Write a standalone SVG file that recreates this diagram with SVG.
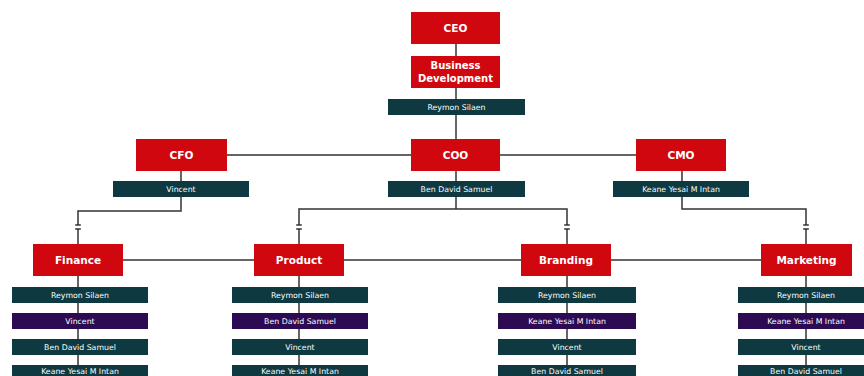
<svg xmlns="http://www.w3.org/2000/svg" width="864" height="376" viewBox="0 0 864 376">
<defs>
<style>
.role{fill:#d0070f}
.staff{fill:#0e3940}
.lead{fill:#2c0b53}
.ln{fill:none;stroke:#333;stroke-width:1.5}
.t{font-family:"DejaVu Sans","Liberation Sans",sans-serif;fill:#fff;text-anchor:middle}
.tb{font-weight:bold;font-size:10.5px}
.ts{font-size:7.8px}
</style>
<marker id="tick" markerUnits="userSpaceOnUse" markerWidth="8" markerHeight="8" viewBox="-4 -4 8 8" refX="0" refY="0" orient="auto">
<path d="M0,-2.8V2.8" stroke="#333" stroke-width="1.5"/>
</marker>
</defs>
<rect width="864" height="376" fill="#fff"/>
<g id="connectors">
<path class="ln" d="M456,44V139"/>
<path class="ln" d="M227,155H411M500,155H636"/>
<path class="ln" d="M181,171V211H78V225" marker-end="url(#tick)"/>
<path class="ln" d="M78,229V244" marker-start="url(#tick)"/>
<path class="ln" d="M456,171V209"/>
<path class="ln" d="M299,225V209H567V225" marker-start="url(#tick)" marker-end="url(#tick)"/>
<path class="ln" d="M299,229V244" marker-start="url(#tick)"/>
<path class="ln" d="M567,229V244" marker-start="url(#tick)"/>
<path class="ln" d="M682,171V209H806V225" marker-end="url(#tick)"/>
<path class="ln" d="M806,229V244" marker-start="url(#tick)"/>
<path class="ln" d="M123,260H254M344,260H521M611,260H761"/>
<path class="ln" d="M78,276V376M299,276V376M567,276V376M806,276V376"/>
</g>
<g id="ceo"><rect class="role" x="411" y="12" width="89" height="32"/><text class="t tb" x="455.5" y="32">CEO</text></g>
<g id="bizdev"><rect class="role" x="411" y="56" width="89" height="32"/><text class="t tb" style="font-size:10px" x="455.5" y="69">Business</text><text class="t tb" style="font-size:10px" x="455.5" y="81.5">Development</text></g>
<g id="bizdev-staff"><rect class="staff" x="388" y="99" width="137" height="16"/><text class="t ts" x="456.5" y="110">Reymon Silaen</text></g>
<g id="cfo"><rect class="role" x="136" y="139" width="91" height="32"/><text class="t tb" x="181.5" y="159">CFO</text></g>
<g id="cfo-staff"><rect class="staff" x="113" y="181" width="136" height="16"/><text class="t ts" x="181" y="192">Vincent</text></g>
<g id="coo"><rect class="role" x="411" y="139" width="89" height="32"/><text class="t tb" x="455.5" y="159">COO</text></g>
<g id="coo-staff"><rect class="staff" x="388" y="181" width="137" height="16"/><text class="t ts" x="456.5" y="192">Ben David Samuel</text></g>
<g id="cmo"><rect class="role" x="636" y="139" width="90" height="32"/><text class="t tb" x="681" y="159">CMO</text></g>
<g id="cmo-staff"><rect class="staff" x="613" y="181" width="136" height="16"/><text class="t ts" x="681" y="192">Keane Yesai M Intan</text></g>
<g id="finance"><rect class="role" x="33" y="244" width="90" height="32"/><text class="t tb" x="78" y="264">Finance</text>
<rect class="staff" x="12" y="287" width="136" height="16"/><text class="t ts" x="80" y="298">Reymon Silaen</text>
<rect class="lead" x="12" y="313" width="136" height="16"/><text class="t ts" x="80" y="324">Vincent</text>
<rect class="staff" x="12" y="339" width="136" height="16"/><text class="t ts" x="80" y="350">Ben David Samuel</text>
<rect class="staff" x="12" y="365" width="136" height="16"/><text class="t ts" x="80" y="374">Keane Yesai M Intan</text></g>
<g id="product"><rect class="role" x="254" y="244" width="90" height="32"/><text class="t tb" x="299" y="264">Product</text>
<rect class="staff" x="232" y="287" width="136" height="16"/><text class="t ts" x="300" y="298">Reymon Silaen</text>
<rect class="lead" x="232" y="313" width="136" height="16"/><text class="t ts" x="300" y="324">Ben David Samuel</text>
<rect class="staff" x="232" y="339" width="136" height="16"/><text class="t ts" x="300" y="350">Vincent</text>
<rect class="staff" x="232" y="365" width="136" height="16"/><text class="t ts" x="300" y="374">Keane Yesai M Intan</text></g>
<g id="branding"><rect class="role" x="521" y="244" width="90" height="32"/><text class="t tb" x="566" y="264">Branding</text>
<rect class="staff" x="498" y="287" width="138" height="16"/><text class="t ts" x="567" y="298">Reymon Silaen</text>
<rect class="lead" x="498" y="313" width="138" height="16"/><text class="t ts" x="567" y="324">Keane Yesai M Intan</text>
<rect class="staff" x="498" y="339" width="138" height="16"/><text class="t ts" x="567" y="350">Vincent</text>
<rect class="staff" x="498" y="365" width="138" height="16"/><text class="t ts" x="567" y="374">Ben David Samuel</text></g>
<g id="marketing"><rect class="role" x="761" y="244" width="91" height="32"/><text class="t tb" x="806.5" y="264">Marketing</text>
<rect class="staff" x="738" y="287" width="137" height="16"/><text class="t ts" x="806" y="298">Reymon Silaen</text>
<rect class="lead" x="738" y="313" width="137" height="16"/><text class="t ts" x="806" y="324">Keane Yesai M Intan</text>
<rect class="staff" x="738" y="339" width="137" height="16"/><text class="t ts" x="806" y="350">Vincent</text>
<rect class="staff" x="738" y="365" width="137" height="16"/><text class="t ts" x="806" y="374">Ben David Samuel</text></g>
</svg>
